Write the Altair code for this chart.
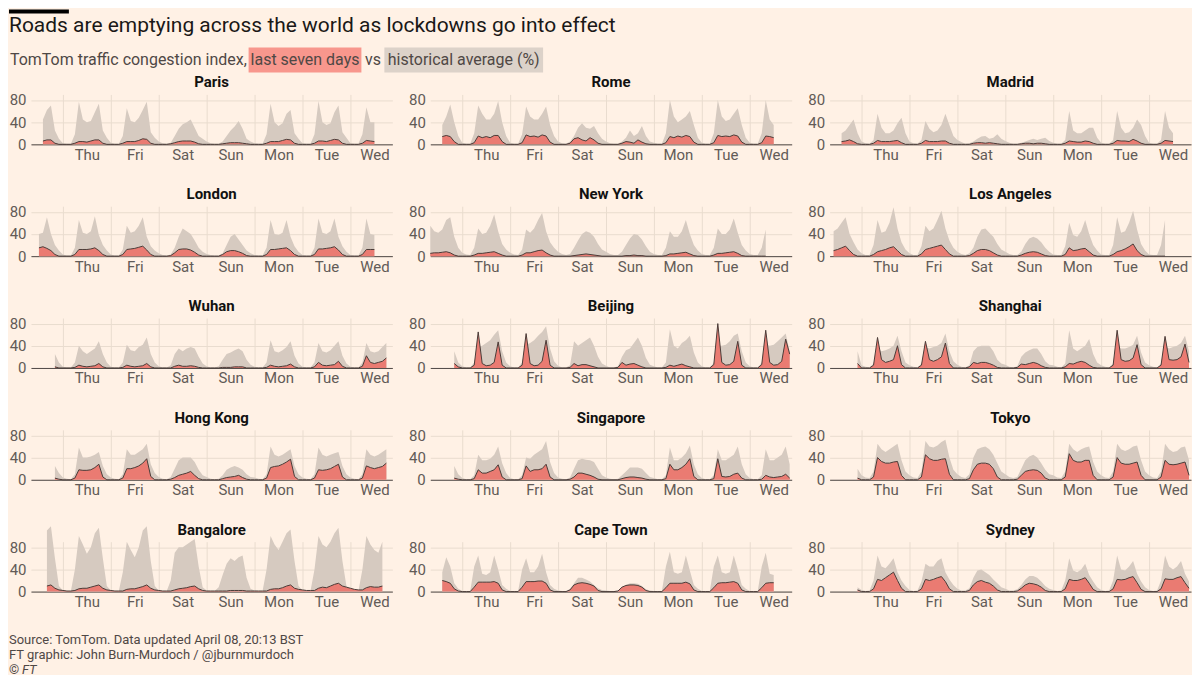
import altair as alt
import pandas as pd

FONT = "Roboto"
CITIES = ["Paris", "Rome", "Madrid", "London", "New York", "Los Angeles",
          "Wuhan", "Beijing", "Shanghai", "Hong Kong", "Singapore", "Tokyo",
          "Bangalore", "Cape Town", "Sydney"]
DAY_LABELS = ["Thu", "Fri", "Sat", "Sun", "Mon", "Tue", "Wed"]
MIDNIGHTS = [0, 24, 48, 72, 96, 120, 144]   # hours from Thu 00:00 local
Y_TICKS = [0, 40, 80]
STEP = 2  # hours between readings

# ---- each list: first (partial) day, Thu..Tue, last (partial) Wed; readings every 2h ----
PARIS_START = -10
PARIS_HIST = [[45, 62, 70, 25, 10],
              [2, 1, 1, 18, 77, 45, 40, 42, 58, 73, 25, 12],
              [3, 1, 1, 15, 65, 42, 40, 48, 62, 77, 22, 12],
              [5, 2, 1, 3, 15, 28, 36, 40, 45, 30, 15, 10],
              [5, 2, 1, 1, 5, 15, 25, 32, 42, 28, 10, 5],
              [2, 1, 1, 18, 73, 40, 33, 38, 55, 62, 20, 10],
              [2, 1, 1, 18, 78, 40, 35, 38, 58, 70, 22, 12],
              [2, 1, 1, 18, 67, 40, 40]]
PARIS_LIVE = [[6, 8, 8, 2, 0],
              [0, 0, 0, 2, 5, 5, 4, 6, 8, 8, 2, 0],
              [0, 0, 0, 2, 5, 5, 5, 7, 10, 9, 2, 0],
              [0, 0, 0, 1, 3, 5, 6, 6, 6, 4, 1, 0],
              [0, 0, 0, 0, 1, 2, 3, 3, 3, 2, 1, 0],
              [0, 0, 0, 2, 5, 5, 5, 7, 9, 8, 2, 0],
              [0, 0, 0, 2, 6, 6, 5, 7, 9, 8, 2, 0],
              [0, 0, 0, 2, 7, 6, 5]]

ROME_START = -10
ROME_HIST = [[35, 50, 72, 40, 15],
             [3, 1, 1, 20, 70, 55, 45, 45, 55, 78, 40, 15],
             [3, 1, 1, 18, 68, 50, 45, 45, 55, 68, 35, 15],
             [5, 2, 1, 5, 15, 30, 38, 30, 28, 33, 20, 10],
             [5, 2, 1, 1, 5, 12, 25, 15, 20, 33, 15, 5],
             [3, 1, 1, 20, 80, 50, 40, 45, 50, 60, 35, 12],
             [3, 1, 1, 20, 80, 50, 42, 45, 55, 65, 35, 12],
             [3, 1, 1, 20, 80, 45, 35]]
ROME_LIVE = [[14, 16, 14, 5, 0],
             [0, 0, 0, 3, 15, 12, 14, 12, 16, 16, 5, 0],
             [0, 0, 0, 3, 17, 14, 15, 13, 17, 15, 4, 0],
             [0, 0, 0, 2, 10, 12, 8, 6, 12, 8, 2, 0],
             [0, 0, 0, 0, 2, 5, 4, 2, 8, 4, 1, 0],
             [0, 0, 0, 3, 14, 12, 15, 13, 16, 14, 4, 0],
             [0, 0, 0, 3, 16, 14, 15, 14, 17, 15, 4, 0],
             [0, 0, 0, 3, 15, 14, 12]]

MADRID_START = -10
MADRID_HIST = [[20, 25, 35, 45, 20],
               [5, 2, 1, 8, 55, 30, 20, 20, 25, 38, 48, 20],
               [5, 2, 1, 8, 42, 28, 22, 25, 35, 55, 35, 15],
               [8, 4, 1, 2, 5, 10, 14, 15, 10, 12, 18, 10],
               [6, 3, 1, 1, 3, 5, 8, 10, 8, 10, 12, 6],
               [3, 1, 1, 8, 60, 25, 20, 20, 25, 30, 30, 12],
               [3, 1, 1, 8, 60, 30, 20, 22, 30, 45, 35, 15],
               [3, 1, 1, 8, 60, 30, 20]]
MADRID_LIVE = [[5, 6, 8, 5, 1],
               [0, 0, 0, 2, 7, 5, 5, 5, 6, 7, 3, 0],
               [0, 0, 0, 2, 7, 5, 5, 5, 6, 6, 2, 0],
               [0, 0, 0, 0, 2, 3, 3, 2, 3, 2, 1, 0],
               [0, 0, 0, 0, 1, 2, 2, 1, 2, 2, 1, 0],
               [0, 0, 0, 2, 6, 5, 4, 4, 6, 5, 2, 0],
               [0, 0, 0, 2, 7, 6, 6, 5, 9, 6, 2, 0],
               [0, 0, 0, 2, 7, 6, 5]]

LONDON_START = -12
LONDON_HIST = [[40, 42, 70, 40, 20, 10],
               [3, 1, 1, 15, 65, 42, 40, 45, 72, 38, 20, 10],
               [3, 1, 1, 12, 55, 42, 45, 55, 70, 35, 18, 10],
               [5, 2, 1, 3, 15, 35, 50, 45, 40, 28, 15, 8],
               [4, 2, 1, 1, 5, 20, 35, 40, 30, 20, 10, 5],
               [2, 1, 1, 15, 65, 40, 38, 42, 65, 35, 18, 8],
               [2, 1, 1, 15, 68, 42, 40, 45, 68, 35, 18, 8],
               [2, 1, 1, 15, 68, 40, 38]]
LONDON_LIVE = [[15, 17, 14, 10, 3, 0],
               [0, 0, 0, 3, 12, 12, 12, 13, 15, 10, 3, 0],
               [0, 0, 0, 3, 12, 13, 14, 16, 18, 11, 3, 0],
               [0, 0, 0, 1, 6, 12, 13, 13, 11, 7, 2, 0],
               [0, 0, 0, 0, 3, 8, 10, 10, 8, 5, 1, 0],
               [0, 0, 0, 3, 12, 12, 13, 14, 15, 10, 3, 0],
               [0, 0, 0, 3, 13, 13, 14, 15, 17, 11, 3, 0],
               [0, 0, 0, 3, 12, 12, 12]]

NEWYORK_START = -16
NEWYORK_HIST = [[55, 45, 42, 48, 65, 70, 35, 15],
                [6, 3, 2, 15, 50, 40, 42, 55, 75, 45, 22, 12],
                [6, 3, 2, 12, 48, 42, 50, 65, 78, 45, 25, 15],
                [8, 4, 2, 4, 15, 28, 40, 45, 42, 35, 22, 12],
                [8, 4, 2, 2, 8, 20, 32, 40, 38, 30, 18, 8],
                [4, 2, 2, 15, 45, 35, 35, 45, 65, 40, 20, 10],
                [4, 2, 2, 15, 50, 40, 40, 48, 68, 42, 20, 10],
                [4, 2, 2, 15, 48]]
NEWYORK_LIVE = [[5, 6, 6, 7, 8, 6, 2, 0],
                [0, 0, 0, 2, 5, 5, 6, 7, 8, 5, 2, 0],
                [0, 0, 0, 2, 6, 6, 8, 10, 11, 6, 2, 0],
                [0, 0, 0, 0, 1, 2, 3, 4, 3, 2, 1, 0],
                [0, 0, 0, 0, 0, 1, 1, 2, 1, 1, 0, 0],
                [0, 0, 0, 1, 4, 4, 5, 6, 7, 4, 1, 0],
                [0, 0, 0, 2, 5, 5, 6, 7, 8, 5, 1, 0],
                [0, 0, 0, 0, 0]]

LOSANGELES_START = -14
LOSANGELES_HIST = [[45, 50, 60, 70, 40, 25, 12],
                   [5, 2, 2, 20, 65, 42, 45, 60, 88, 50, 25, 12],
                   [5, 2, 2, 18, 55, 45, 50, 65, 82, 50, 28, 15],
                   [8, 4, 2, 5, 15, 35, 48, 50, 42, 35, 22, 12],
                   [8, 4, 2, 2, 8, 22, 32, 35, 32, 25, 15, 8],
                   [3, 2, 2, 18, 60, 38, 35, 45, 65, 40, 20, 10],
                   [3, 2, 2, 20, 70, 42, 45, 60, 82, 48, 22, 10],
                   [3, 2, 2, 20, 65]]
LOSANGELES_LIVE = [[10, 12, 15, 18, 10, 3, 0],
                   [0, 0, 0, 3, 8, 10, 12, 15, 17, 10, 3, 0],
                   [0, 0, 0, 4, 12, 14, 16, 18, 20, 12, 4, 0],
                   [0, 0, 0, 1, 5, 10, 12, 12, 10, 6, 2, 0],
                   [0, 0, 0, 0, 2, 5, 7, 8, 7, 4, 1, 0],
                   [0, 0, 0, 3, 15, 10, 11, 13, 14, 8, 2, 0],
                   [0, 0, 0, 3, 8, 10, 13, 17, 22, 10, 3, 0],
                   [0, 0, 0, 0, 0]]

WUHAN_START = -4
WUHAN_HIST = [[25, 10],
              [2, 1, 1, 10, 40, 30, 25, 30, 35, 48, 25, 10],
              [2, 1, 1, 10, 42, 32, 30, 38, 42, 55, 25, 10],
              [3, 1, 1, 5, 25, 35, 30, 35, 38, 35, 20, 8],
              [3, 1, 1, 3, 15, 25, 28, 32, 35, 30, 15, 6],
              [2, 1, 1, 10, 50, 30, 28, 32, 38, 48, 22, 8],
              [2, 1, 1, 10, 45, 30, 28, 32, 40, 48, 22, 8],
              [2, 1, 1, 10, 45, 30, 28, 30, 38, 45]]
WUHAN_LIVE = [[2, 0],
              [0, 0, 0, 1, 5, 3, 2, 3, 4, 8, 2, 0],
              [0, 0, 0, 1, 5, 3, 2, 3, 4, 8, 2, 0],
              [0, 0, 0, 0, 3, 5, 3, 3, 4, 3, 1, 0],
              [0, 0, 0, 0, 1, 1, 1, 2, 2, 2, 0, 0],
              [0, 0, 0, 1, 5, 3, 2, 3, 4, 7, 2, 0],
              [0, 0, 0, 2, 10, 5, 4, 5, 6, 12, 3, 0],
              [0, 0, 0, 3, 22, 10, 8, 10, 12, 18]]

BEIJING_START = -4
BEIJING_HIST = [[30, 10],
                [3, 1, 1, 10, 38, 40, 45, 50, 60, 68, 30, 10],
                [3, 1, 1, 10, 42, 45, 50, 58, 65, 75, 35, 12],
                [4, 1, 1, 5, 48, 40, 45, 50, 55, 40, 20, 8],
                [4, 1, 1, 3, 20, 32, 35, 45, 55, 40, 18, 6],
                [3, 1, 1, 10, 70, 40, 35, 45, 50, 58, 28, 10],
                [3, 1, 1, 10, 40, 40, 42, 48, 58, 62, 30, 10],
                [3, 1, 1, 10, 42, 40, 42, 48, 55, 62, 30]]
BEIJING_LIVE = [[8, 2],
                [0, 0, 0, 5, 65, 8, 4, 5, 10, 47, 5, 0],
                [0, 0, 0, 5, 62, 8, 4, 5, 12, 50, 5, 0],
                [0, 0, 0, 1, 8, 4, 6, 6, 4, 2, 0, 0],
                [0, 0, 0, 1, 10, 5, 7, 8, 5, 2, 0, 0],
                [0, 0, 0, 1, 5, 3, 5, 7, 4, 2, 0, 0],
                [0, 0, 0, 6, 80, 10, 5, 6, 12, 48, 5, 0],
                [0, 0, 0, 6, 68, 10, 5, 6, 12, 52, 25]]

SHANGHAI_START = -2
SHANGHAI_HIST = [[30],
                 [5, 2, 1, 8, 35, 30, 32, 35, 40, 58, 30, 10],
                 [5, 2, 1, 8, 38, 35, 38, 40, 45, 62, 30, 12],
                 [6, 2, 1, 5, 30, 38, 40, 40, 40, 30, 15, 8],
                 [6, 2, 1, 3, 20, 28, 32, 35, 35, 25, 12, 6],
                 [5, 2, 1, 8, 68, 35, 30, 35, 40, 52, 25, 10],
                 [5, 2, 1, 8, 40, 35, 35, 38, 42, 58, 28, 10],
                 [5, 2, 1, 8, 40, 35, 38, 40, 45, 58, 30]]
SHANGHAI_LIVE = [[8],
                 [0, 0, 0, 5, 55, 15, 10, 12, 15, 40, 6, 0],
                 [0, 0, 0, 5, 48, 15, 12, 15, 20, 45, 8, 0],
                 [0, 0, 0, 2, 10, 8, 10, 10, 8, 5, 1, 0],
                 [0, 0, 0, 1, 7, 6, 8, 10, 8, 4, 1, 0],
                 [0, 0, 0, 2, 8, 7, 10, 12, 10, 5, 1, 0],
                 [0, 0, 0, 5, 68, 15, 12, 13, 18, 42, 6, 0],
                 [0, 0, 0, 5, 57, 15, 14, 15, 20, 43, 10]]

HONGKONG_START = -4
HONGKONG_HIST = [[25, 12],
                 [4, 2, 1, 10, 58, 40, 40, 42, 45, 50, 25, 10],
                 [4, 2, 1, 10, 55, 45, 45, 50, 55, 65, 28, 12],
                 [5, 2, 1, 5, 20, 35, 40, 40, 40, 32, 18, 8],
                 [5, 2, 1, 2, 8, 18, 22, 25, 22, 18, 10, 5],
                 [4, 2, 1, 10, 60, 45, 42, 45, 50, 55, 25, 10],
                 [4, 2, 1, 10, 58, 45, 42, 45, 48, 50, 25, 10],
                 [4, 2, 1, 10, 55, 45, 42, 45, 50, 55]]
HONGKONG_LIVE = [[3, 1],
                 [0, 0, 0, 3, 18, 17, 17, 18, 22, 28, 5, 0],
                 [0, 0, 0, 3, 20, 20, 22, 25, 30, 38, 6, 0],
                 [0, 0, 0, 1, 4, 8, 10, 12, 15, 8, 2, 0],
                 [0, 0, 0, 0, 2, 4, 5, 6, 8, 4, 1, 0],
                 [0, 0, 0, 3, 22, 24, 25, 28, 32, 37, 6, 0],
                 [0, 0, 0, 3, 18, 17, 18, 20, 24, 28, 5, 0],
                 [0, 0, 0, 3, 25, 22, 20, 22, 24, 30]]

SINGAPORE_START = -4
SINGAPORE_HIST = [[25, 10],
                  [3, 1, 1, 8, 45, 35, 35, 38, 45, 60, 30, 12],
                  [3, 1, 1, 8, 40, 38, 45, 50, 55, 70, 32, 12],
                  [4, 2, 1, 4, 20, 35, 38, 36, 35, 32, 20, 8],
                  [4, 2, 1, 2, 8, 15, 22, 22, 22, 20, 12, 5],
                  [3, 1, 1, 8, 58, 35, 35, 40, 48, 62, 28, 10],
                  [3, 1, 1, 8, 55, 35, 35, 40, 45, 60, 28, 10],
                  [3, 1, 1, 8, 55, 35, 35, 40, 45, 60, 28]]
SINGAPORE_LIVE = [[3, 1],
                  [0, 0, 0, 2, 18, 12, 12, 15, 18, 27, 5, 0],
                  [0, 0, 0, 2, 25, 15, 18, 18, 20, 28, 5, 0],
                  [0, 0, 0, 1, 5, 12, 12, 10, 8, 5, 1, 0],
                  [0, 0, 0, 0, 2, 4, 5, 5, 4, 3, 1, 0],
                  [0, 0, 0, 2, 28, 18, 18, 22, 28, 38, 6, 0],
                  [0, 0, 0, 2, 38, 6, 5, 6, 10, 12, 3, 0],
                  [0, 0, 0, 1, 8, 5, 4, 5, 6, 10, 3]]

TOKYO_START = -2
TOKYO_HIST = [[20],
              [8, 4, 3, 15, 65, 55, 50, 55, 60, 65, 35, 15],
              [8, 4, 3, 15, 70, 60, 58, 62, 68, 72, 40, 18],
              [10, 5, 3, 10, 40, 55, 58, 60, 55, 45, 30, 15],
              [10, 5, 3, 5, 20, 35, 42, 45, 40, 30, 18, 10],
              [8, 4, 3, 15, 65, 55, 50, 55, 58, 60, 32, 15],
              [8, 4, 3, 15, 65, 55, 52, 55, 60, 62, 35, 15],
              [8, 4, 3, 15, 65, 55, 50, 52, 58, 60, 35]]
TOKYO_LIVE = [[3],
              [0, 0, 0, 5, 40, 33, 30, 30, 32, 33, 8, 0],
              [0, 0, 0, 5, 45, 38, 35, 35, 37, 38, 10, 0],
              [0, 0, 0, 2, 18, 28, 30, 30, 28, 20, 5, 0],
              [0, 0, 0, 1, 8, 15, 17, 18, 17, 12, 3, 0],
              [0, 0, 0, 5, 47, 35, 32, 32, 35, 35, 8, 0],
              [0, 0, 0, 5, 40, 30, 28, 28, 30, 32, 8, 0],
              [0, 0, 0, 5, 35, 28, 27, 28, 30, 32, 8]]

BANGALORE_START = -8
BANGALORE_HIST = [[110, 118, 60, 10],
                  [2, 1, 1, 40, 100, 85, 68, 80, 105, 115, 60, 10],
                  [2, 1, 1, 35, 90, 75, 62, 80, 110, 118, 55, 10],
                  [2, 1, 1, 20, 70, 80, 80, 85, 90, 95, 45, 8],
                  [2, 1, 1, 8, 30, 50, 60, 55, 62, 65, 25, 5],
                  [2, 1, 1, 40, 100, 85, 75, 90, 105, 112, 55, 10],
                  [2, 1, 1, 40, 100, 85, 80, 90, 105, 115, 55, 10],
                  [2, 1, 1, 40, 100, 85, 75, 70, 90]]
BANGALORE_LIVE = [[10, 12, 6, 3],
                  [2, 1, 1, 2, 5, 6, 6, 8, 10, 12, 6, 3],
                  [2, 1, 1, 1, 4, 5, 5, 7, 9, 12, 6, 3],
                  [2, 1, 1, 1, 3, 5, 6, 7, 9, 10, 5, 2],
                  [1, 1, 1, 1, 1, 1, 2, 2, 2, 2, 1, 1],
                  [1, 1, 1, 1, 4, 5, 5, 7, 10, 12, 6, 4],
                  [3, 2, 2, 2, 6, 8, 7, 10, 13, 15, 10, 8],
                  [6, 4, 3, 3, 7, 9, 8, 8, 10]]

CAPETOWN_START = -10
CAPETOWN_HIST = [[35, 62, 45, 15, 5],
                 [1, 1, 1, 45, 65, 32, 30, 35, 65, 40, 12, 5],
                 [1, 1, 1, 40, 60, 35, 35, 45, 68, 35, 12, 5],
                 [2, 1, 1, 5, 15, 25, 25, 22, 18, 12, 6, 3],
                 [2, 1, 1, 2, 5, 12, 15, 15, 14, 10, 4, 2],
                 [1, 1, 1, 45, 72, 35, 32, 35, 65, 38, 12, 5],
                 [1, 1, 1, 45, 65, 35, 32, 35, 65, 40, 12, 5],
                 [1, 1, 1, 45, 70, 32, 30]]
CAPETOWN_LIVE = [[20, 18, 15, 5, 1],
                 [0, 0, 0, 8, 17, 17, 17, 17, 18, 15, 3, 0],
                 [0, 0, 0, 8, 18, 18, 18, 19, 19, 15, 3, 0],
                 [0, 0, 0, 3, 12, 15, 16, 15, 13, 10, 2, 0],
                 [0, 0, 0, 1, 8, 11, 12, 12, 11, 8, 2, 0],
                 [0, 0, 0, 7, 15, 15, 15, 15, 17, 14, 3, 0],
                 [0, 0, 0, 7, 15, 16, 16, 17, 18, 15, 3, 0],
                 [0, 0, 0, 7, 15, 16, 16]]

SYDNEY_START = -2
SYDNEY_HIST = [[8],
               [3, 1, 2, 20, 65, 45, 42, 50, 60, 35, 20, 10],
               [3, 1, 2, 18, 50, 45, 45, 55, 60, 35, 22, 12],
               [5, 2, 2, 6, 25, 38, 40, 35, 30, 22, 15, 8],
               [5, 2, 2, 4, 12, 22, 28, 28, 25, 18, 10, 5],
               [3, 1, 2, 20, 60, 38, 35, 40, 50, 30, 18, 8],
               [3, 1, 2, 20, 65, 40, 38, 45, 55, 32, 18, 8],
               [3, 1, 2, 20, 65, 45, 40, 45, 55, 32, 18]]
SYDNEY_LIVE = [[3],
               [0, 0, 0, 5, 22, 20, 25, 30, 35, 20, 6, 0],
               [0, 0, 0, 5, 22, 20, 22, 25, 27, 18, 5, 0],
               [0, 0, 0, 2, 12, 18, 20, 17, 15, 10, 3, 0],
               [0, 0, 0, 1, 6, 12, 15, 14, 12, 8, 2, 0],
               [0, 0, 0, 5, 22, 20, 20, 22, 25, 15, 4, 0],
               [0, 0, 0, 5, 22, 21, 22, 25, 27, 16, 4, 0],
               [0, 0, 0, 5, 23, 22, 22, 25, 27, 16, 6]]

SERIES = {
    "Paris": (PARIS_START, PARIS_HIST, PARIS_LIVE),
    "Rome": (ROME_START, ROME_HIST, ROME_LIVE),
    "Madrid": (MADRID_START, MADRID_HIST, MADRID_LIVE),
    "London": (LONDON_START, LONDON_HIST, LONDON_LIVE),
    "New York": (NEWYORK_START, NEWYORK_HIST, NEWYORK_LIVE),
    "Los Angeles": (LOSANGELES_START, LOSANGELES_HIST, LOSANGELES_LIVE),
    "Wuhan": (WUHAN_START, WUHAN_HIST, WUHAN_LIVE),
    "Beijing": (BEIJING_START, BEIJING_HIST, BEIJING_LIVE),
    "Shanghai": (SHANGHAI_START, SHANGHAI_HIST, SHANGHAI_LIVE),
    "Hong Kong": (HONGKONG_START, HONGKONG_HIST, HONGKONG_LIVE),
    "Singapore": (SINGAPORE_START, SINGAPORE_HIST, SINGAPORE_LIVE),
    "Tokyo": (TOKYO_START, TOKYO_HIST, TOKYO_LIVE),
    "Bangalore": (BANGALORE_START, BANGALORE_HIST, BANGALORE_LIVE),
    "Cape Town": (CAPETOWN_START, CAPETOWN_HIST, CAPETOWN_LIVE),
    "Sydney": (SYDNEY_START, SYDNEY_HIST, SYDNEY_LIVE),
}

rows = []
for city, (start, hist_days, live_days) in SERIES.items():
    hist = [v for d in hist_days for v in d]
    live = [v for d in live_days for v in d]
    for i, (hv, lv) in enumerate(zip(hist, live)):
        rows.append({"city": city, "hour": start + STEP * i, "hist": hv, "live": lv})
df = pd.DataFrame(rows)

# ---- style ----
BG = "#fff1e5"
HIST_COLOR = "#d6cac0"
LIVE_COLOR = "#ea7b72"
LINE_COLOR = "#4a3c38"
GRID = "#e9dccf"
LABEL = "#625b57"
TEXT = "#4f4845"
CELL_W, CELL_H = 362, 50
X_DOMAIN = [-16, 165]
day_px = CELL_W * 24 / (X_DOMAIN[1] - X_DOMAIN[0])

label_expr = "[" + ",".join("'%s'" % d for d in DAY_LABELS) + "][floor(datum.value / 24)]"
x_enc = alt.X("hour:Q", scale=alt.Scale(domain=X_DOMAIN, nice=False, zero=False),
              axis=alt.Axis(values=MIDNIGHTS, labelExpr=label_expr, labelOffset=day_px / 2,
                            labelFlush=False, title=None, grid=True, ticks=False,
                            domain=True, labelPadding=3))
y_axis = alt.Axis(values=Y_TICKS, title=None, grid=True, domain=False, ticks=False,
                  labelPadding=5)
y_scale = alt.Scale(domain=[0, 90], nice=False)

hist_area = alt.Chart().mark_area(color=HIST_COLOR).encode(
    x=x_enc, y=alt.Y("hist:Q", scale=y_scale, axis=y_axis))
live_area = alt.Chart().mark_area(color=LIVE_COLOR).encode(
    x=x_enc, y=alt.Y("live:Q", scale=y_scale, axis=y_axis))
live_line = alt.Chart().mark_line(color=LINE_COLOR, strokeWidth=1).encode(
    x=x_enc, y=alt.Y("live:Q", scale=y_scale, axis=y_axis))
city_title = alt.Chart().transform_aggregate(n="count()", groupby=["city"]).mark_text(
    fontSize=15, fontWeight="bold", font=FONT, color="#111111", baseline="middle", align="center"
).encode(text="city:N", x=alt.value(CELL_W / 2), y=alt.value(-12))

panel = alt.layer(hist_area, live_area, live_line, city_title).properties(width=CELL_W, height=CELL_H)
grid_chart = panel.facet(
    facet=alt.Facet("city:N", sort=CITIES,
                    header=alt.Header(title=None, labels=False, labelExpr="''",
                                      labelFontSize=1, labelPadding=0)),
    columns=3, data=df, bounds="flush", spacing={"row": 62, "column": 38},
).resolve_axis(x="independent", y="independent")

# ---- header (title + legend-subtitle) ----
HX = -22  # shift so header aligns with left edge of the y-axis labels
one = pd.DataFrame({"k": [0]})
hb = alt.Chart(one)
header = alt.layer(
    hb.mark_rect(color="#000000").encode(x=alt.value(HX), x2=alt.value(HX + 60), y=alt.value(0), y2=alt.value(4)),
    hb.mark_text(align="left", baseline="middle", fontSize=21, font=FONT, color="#1a1817").encode(
        x=alt.value(HX), y=alt.value(16), text=alt.value("Roads are emptying across the world as lockdowns go into effect")),
    hb.mark_rect(color="#f8978d").encode(x=alt.value(HX + 240), x2=alt.value(HX + 353), y=alt.value(38), y2=alt.value(63)),
    hb.mark_rect(color="#dcd2c9").encode(x=alt.value(HX + 376), x2=alt.value(HX + 535), y=alt.value(38), y2=alt.value(63)),
    hb.mark_text(align="left", baseline="middle", fontSize=16, font=FONT, color=TEXT).encode(
        x=alt.value(HX + 1), y=alt.value(51), text=alt.value("TomTom traffic congestion index,")),
    hb.mark_text(align="center", baseline="middle", fontSize=16, font=FONT, color=TEXT).encode(
        x=alt.value(HX + 296.5), y=alt.value(51), text=alt.value("last seven days")),
    hb.mark_text(align="center", baseline="middle", fontSize=16, font=FONT, color=TEXT).encode(
        x=alt.value(HX + 364.5), y=alt.value(51), text=alt.value("vs")),
    hb.mark_text(align="center", baseline="middle", fontSize=16, font=FONT, color=TEXT).encode(
        x=alt.value(HX + 455.5), y=alt.value(51), text=alt.value("historical average (%)")),
).properties(width=1160, height=61)

FOOTER_LINES = ["Source: TomTom. Data updated April 08, 20:13 BST",
                "FT graphic: John Burn-Murdoch / @jburnmurdoch"]
fb = alt.Chart(one)
footer = alt.layer(
    fb.mark_text(align="left", baseline="middle", fontSize=13, font=FONT, color=TEXT).encode(
        x=alt.value(HX), y=alt.value(29), text=alt.value(FOOTER_LINES[0])),
    fb.mark_text(align="left", baseline="middle", fontSize=13, font=FONT, color=TEXT).encode(
        x=alt.value(HX), y=alt.value(44), text=alt.value(FOOTER_LINES[1])),
    fb.mark_text(align="left", baseline="middle", fontSize=13, font=FONT, color=TEXT).encode(
        x=alt.value(HX), y=alt.value(59), text=alt.value("©")),
    fb.mark_text(align="left", baseline="middle", fontSize=13, font=FONT, color=TEXT,
                 fontStyle="italic").encode(
        x=alt.value(HX + 13), y=alt.value(59), text=alt.value("FT")),
).properties(width=1160, height=63)

chart = alt.vconcat(header, grid_chart, footer, spacing=0).properties(
    padding={"left": 0, "top": 0, "right": 0, "bottom": 0}
).configure(background=BG, font=FONT).configure_view(stroke="transparent").configure_axis(
    labelFont=FONT, labelFontSize=15, labelColor=LABEL, gridColor=GRID, gridWidth=1,
    domainColor="#4f4845", domainWidth=1,
).configure_headerFacet(labels=False)

chart.save("out.html", embed_options={"renderer": "svg", "actions": False})
